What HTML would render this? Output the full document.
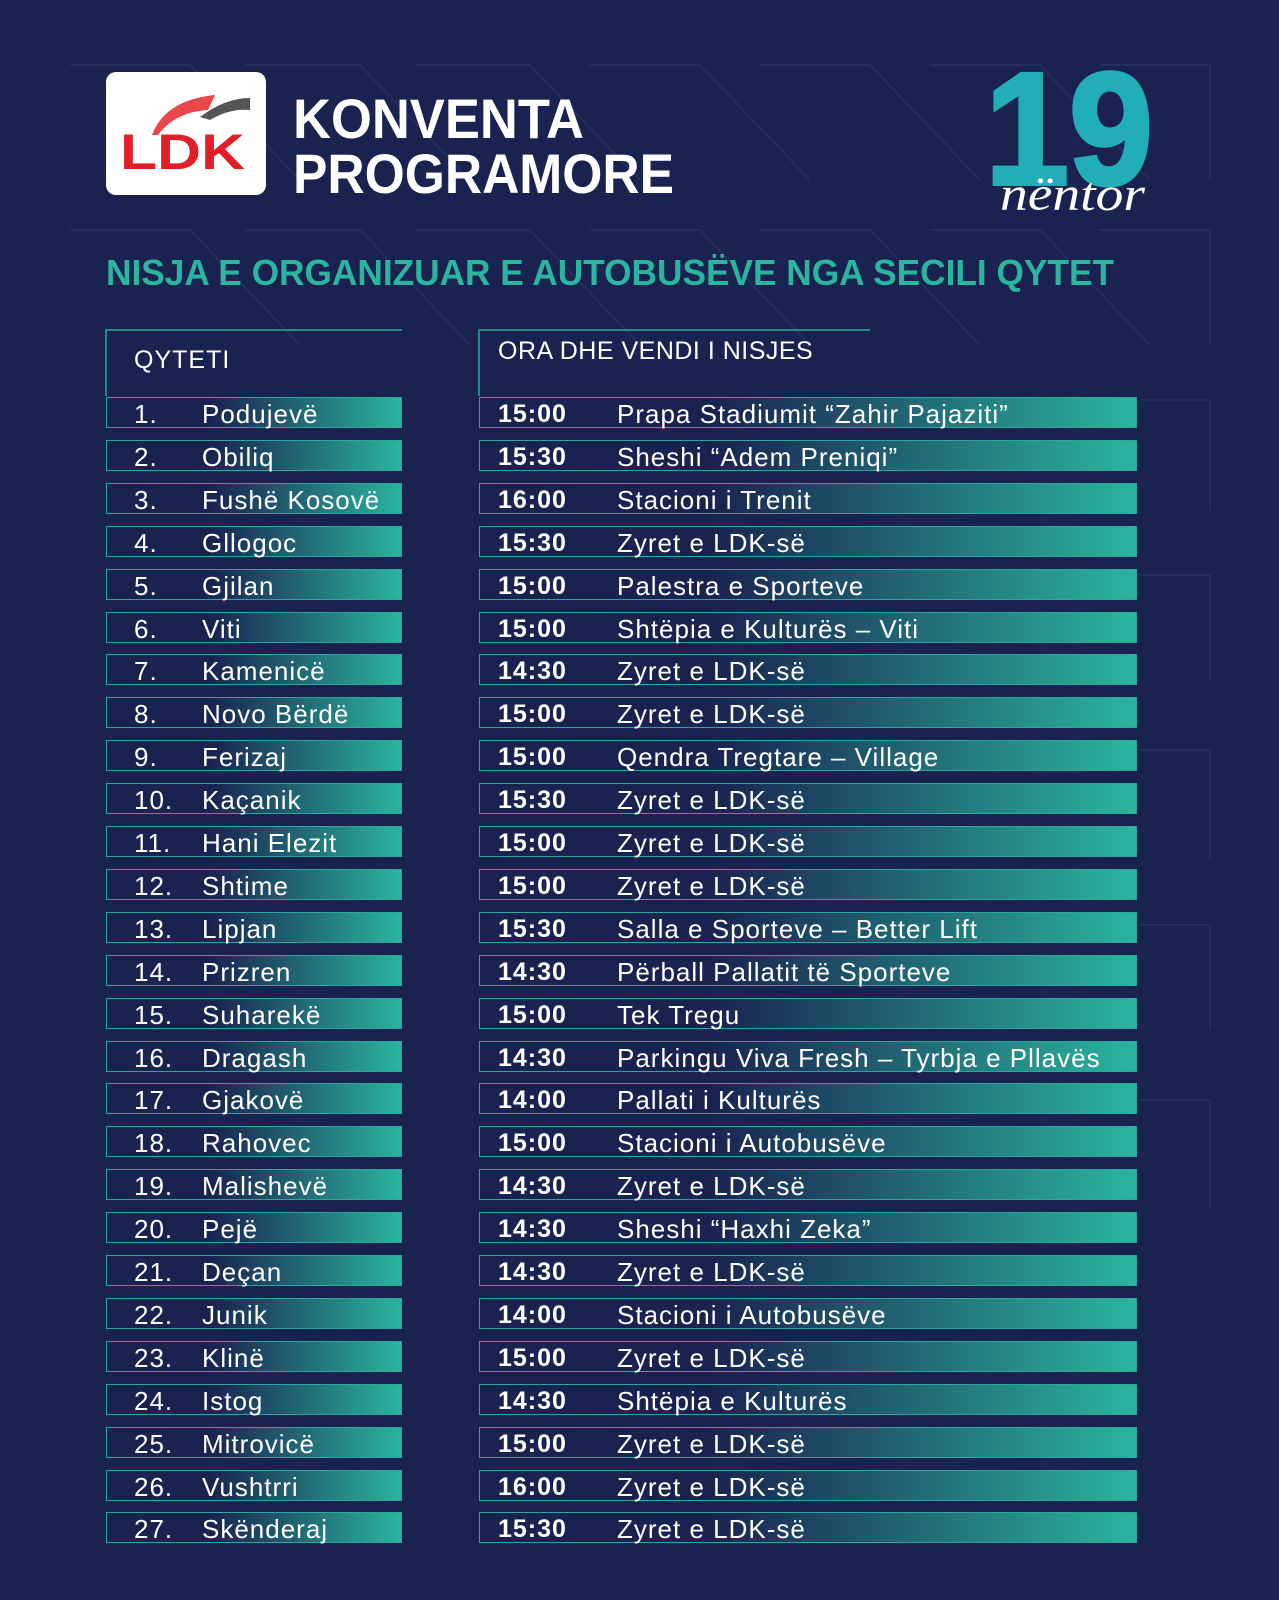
<!DOCTYPE html>
<html><head><meta charset="utf-8"><style>
*{margin:0;padding:0;box-sizing:border-box}
body{width:1279px;height:1600px;background:#1a2250;position:relative;overflow:hidden;font-family:"Liberation Sans",sans-serif;color:#fff}
.a{position:absolute}
.bar{position:absolute;height:31px;border:1.5px solid #2aa89a;background:linear-gradient(90deg,rgba(26,34,80,0) 0%,rgba(26,34,80,0) 35%,#2ab59e 100%)}
.t{position:absolute;font-size:26px;line-height:31px;white-space:nowrap;letter-spacing:1px;margin-top:2px}
.tm{font-weight:bold;font-size:25px;letter-spacing:1px}
</style></head><body>
<svg class="a" style="left:0;top:0" width="1279" height="1600">
<g stroke="#26315f" stroke-width="2" fill="none" opacity="0.8">
<path d="M70 65 L190 65 L300 180"/><path d="M245 65 L360 65 L470 180"/><path d="M415 65 L530 65 L640 180"/><path d="M590 65 L700 65 L810 180"/><path d="M760 65 L870 65 L980 180"/><path d="M930 65 L1040 65 L1150 180"/><path d="M1100 65 L1210 65 L1210 180"/>
<path d="M70 230 L190 230 L300 345"/><path d="M245 230 L360 230 L470 345"/><path d="M415 230 L530 230 L640 345"/><path d="M590 230 L700 230 L810 345"/><path d="M760 230 L870 230 L980 345"/><path d="M930 230 L1040 230 L1150 345"/><path d="M1100 230 L1210 230 L1210 345"/>
<path d="M1140 400 L1210 400 L1210 510"/><path d="M1140 575 L1210 575 L1210 680"/><path d="M1140 750 L1210 750 L1210 860"/><path d="M1140 925 L1210 925 L1210 1030"/><path d="M1140 1100 L1210 1100 L1210 1210"/>
</g>
<rect x="106" y="72" width="160" height="123" rx="10" fill="#fff"/>
<path d="M152 135 Q165 100 215 95 L208 110 Q175 112 158 135 Z" fill="#e8262a" opacity="0.85"/>
<path d="M200 117 Q225 98 250 98 L250 110 Q230 108 210 120 Z" fill="#555"/>
<text x="120" y="169" font-family="Liberation Sans" font-weight="bold" font-size="50" fill="#e21f26" textLength="125" lengthAdjust="spacingAndGlyphs">LDK</text>
<text x="293" y="138" font-family="Liberation Sans" font-weight="bold" font-size="56" fill="#fff" textLength="291" lengthAdjust="spacingAndGlyphs">KONVENTA</text>
<text x="293" y="193" font-family="Liberation Sans" font-weight="bold" font-size="56" fill="#fff" textLength="381" lengthAdjust="spacingAndGlyphs">PROGRAMORE</text>
<text x="985" y="184" font-family="Liberation Sans" font-weight="bold" font-size="160" fill="#22aeb6" textLength="168" lengthAdjust="spacingAndGlyphs" stroke="#22aeb6" stroke-width="4">19</text>
<text x="1000" y="210" font-family="Liberation Serif" font-style="italic" font-size="48" fill="#fff" textLength="145" lengthAdjust="spacingAndGlyphs">nëntor</text>
<text x="106" y="285" font-family="Liberation Sans" font-weight="bold" font-size="36" fill="#2bb5a0" textLength="1008" lengthAdjust="spacingAndGlyphs">NISJA E ORGANIZUAR E AUTOBUSËVE NGA SECILI QYTET</text>
<path d="M106 396 L106 330 L402 330" stroke="#2aa89a" stroke-width="1.5" fill="none"/>
<path d="M479 396 L479 330 L870 330" stroke="#2aa89a" stroke-width="1.5" fill="none"/>
<text x="134" y="368" font-family="Liberation Sans" font-size="25" fill="#fff" letter-spacing="1">QYTETI</text>
<text x="498" y="359" font-family="Liberation Sans" font-size="25" fill="#fff" letter-spacing="0.5">ORA DHE VENDI I NISJES</text>
</svg>
<div id="rows"></div>
<script>
var d=[["Podujevë","15:00","Prapa Stadiumit “Zahir Pajaziti”"],["Obiliq","15:30","Sheshi “Adem Preniqi”"],["Fushë Kosovë","16:00","Stacioni i Trenit"],["Gllogoc","15:30","Zyret e LDK-së"],["Gjilan","15:00","Palestra e Sporteve"],["Viti","15:00","Shtëpia e Kulturës – Viti"],["Kamenicë","14:30","Zyret e LDK-së"],["Novo Bërdë","15:00","Zyret e LDK-së"],["Ferizaj","15:00","Qendra Tregtare – Village"],["Kaçanik","15:30","Zyret e LDK-së"],["Hani Elezit","15:00","Zyret e LDK-së"],["Shtime","15:00","Zyret e LDK-së"],["Lipjan","15:30","Salla e Sporteve – Better Lift"],["Prizren","14:30","Përball Pallatit të Sporteve"],["Suharekë","15:00","Tek Tregu"],["Dragash","14:30","Parkingu Viva Fresh – Tyrbja e Pllavës"],["Gjakovë","14:00","Pallati i Kulturës"],["Rahovec","15:00","Stacioni i Autobusëve"],["Malishevë","14:30","Zyret e LDK-së"],["Pejë","14:30","Sheshi “Haxhi Zeka”"],["Deçan","14:30","Zyret e LDK-së"],["Junik","14:00","Stacioni i Autobusëve"],["Klinë","15:00","Zyret e LDK-së"],["Istog","14:30","Shtëpia e Kulturës"],["Mitrovicë","15:00","Zyret e LDK-së"],["Vushtrri","16:00","Zyret e LDK-së"],["Skënderaj","15:30","Zyret e LDK-së"]];
var h="";
for(var i=0;i<d.length;i++){var y=(397+i*42.9).toFixed(1);
h+='<div class="bar" style="left:106px;top:'+y+'px;width:296px"></div>';
h+='<div class="bar" style="left:479px;top:'+y+'px;width:658px"></div>';
h+='<div class="t" style="left:134px;top:'+y+'px">'+(i+1)+'.</div>';
h+='<div class="t" style="left:202px;top:'+y+'px">'+d[i][0]+'</div>';
h+='<div class="t tm" style="left:498px;top:'+y+'px">'+d[i][1]+'</div>';
h+='<div class="t" style="left:617px;top:'+y+'px">'+d[i][2]+'</div>';}
document.getElementById("rows").innerHTML=h;
</script>
</body></html>
